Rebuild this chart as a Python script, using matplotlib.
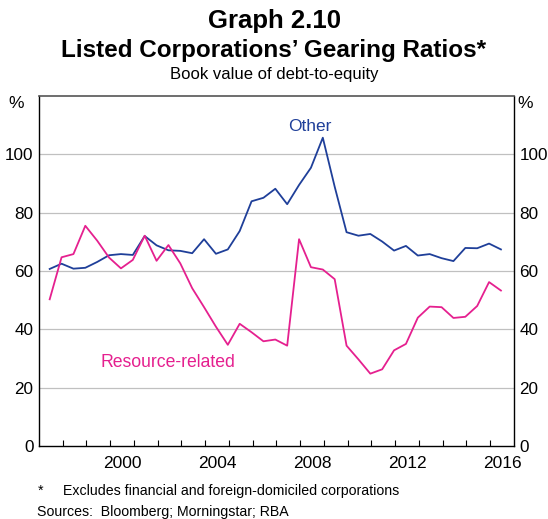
import matplotlib.pyplot as plt
import numpy as np

plt.rcParams['font.family'] = ['Liberation Sans', 'DejaVu Sans']

# Half-yearly observations, June 1997 to June 2016
start_year = 1997.45
other = [60.7, 62.5, 60.8, 61.1, 63.1, 65.4, 65.8, 65.5, 72.0, 68.8,
         67.1, 66.9, 66.1, 70.9, 65.9, 67.4, 73.7, 83.9, 85.1, 88.2,
         82.9, 89.5, 95.4, 105.7, 88.9, 73.3, 72.1, 72.7, 70.1, 67.0,
         68.6, 65.3, 65.8, 64.4, 63.4, 67.9, 67.8, 69.4, 67.4]
resource = [50.3, 64.7, 65.8, 75.5, 70.4, 64.6, 60.9, 63.8, 72.1, 63.5,
            68.9, 62.6, 54.1, 47.6, 40.9, 34.7, 41.9, 39.0, 35.9, 36.5,
            34.4, 70.9, 61.3, 60.5, 57.2, 34.4, 29.7, 24.8, 26.3, 32.8,
            35.0, 44.0, 47.8, 47.6, 43.9, 44.3, 48.0, 56.2, 53.3]
year_labels = [2000, 2004, 2008, 2012, 2016]
y_ticks = [0, 20, 40, 60, 80, 100]

blue = '#1f3f99'
pink = '#e5208f'

x = start_year + 0.5 * np.arange(len(other))

fig = plt.figure(figsize=(5.48, 5.19), dpi=100)
ax = fig.add_axes([39 / 548, 73 / 519, 475 / 548, 350 / 519])

ax.plot(x, other, color=blue, lw=1.3)
ax.plot(x, resource, color=pink, lw=1.3)

ax.set_xlim(1997, 2017)
ax.set_ylim(0, 120)

# grid
for v in y_ticks[1:]:
    ax.axhline(v, color='#c0c0c0', lw=0.9, zorder=0)

ax.set_yticks(y_ticks)
ax.tick_params(axis='y', length=0, labelsize=12.3, pad=4,
               labelleft=True, labelright=True)

# year ticks at boundaries, labels mid-year
ax.set_xticks(np.arange(1998, 2017), minor=True)
ax.set_xticks([y + 0.5 for y in year_labels])
ax.set_xticklabels([str(y) for y in year_labels])
ax.tick_params(axis='x', which='major', length=0, labelsize=12.5, pad=7)
ax.tick_params(axis='x', which='minor', direction='in', length=4.5, width=0.8)

for s in ['left', 'right', 'bottom']:
    ax.spines[s].set_color('black')
    ax.spines[s].set_linewidth(1.0)
ax.spines['top'].set_color('#555555')
ax.spines['top'].set_linewidth(1.2)

ax.text(2008.4, 109.5, 'Other', color=blue, fontsize=12.5, ha='center', va='center')
ax.text(2002.45, 28.5, 'Resource-related', color=pink, fontsize=12.7,
        ha='center', va='center')

fig.text(0.5, 1 - 21 / 519, 'Graph 2.10', fontsize=18.5, fontweight='bold',
         ha='center', va='center')
fig.text(0.5, 1 - 50 / 519, 'Listed Corporations\u2019 Gearing Ratios*',
         fontsize=17.5, fontweight='bold', ha='center', va='center')
fig.text(0.5, 1 - 75 / 519, 'Book value of debt-to-equity', fontsize=12,
         ha='center', va='center')
fig.text(16 / 548, 1 - 103 / 519, '%', fontsize=12.5, ha='center', va='center')
fig.text(525 / 548, 1 - 103 / 519, '%', fontsize=12.5, ha='center', va='center')

fig.text(38 / 548, 1 - 491 / 519, '*', fontsize=10.2, ha='left', va='center')
fig.text(63 / 548, 1 - 491 / 519,
         'Excludes financial and foreign-domiciled corporations',
         fontsize=10.2, ha='left', va='center')
fig.text(37 / 548, 1 - 512 / 519, 'Sources:  Bloomberg; Morningstar; RBA',
         fontsize=10.2, ha='left', va='center')

fig.savefig('out.png', dpi=100)
